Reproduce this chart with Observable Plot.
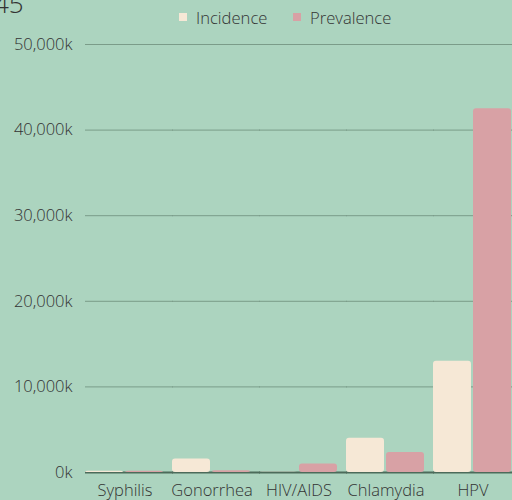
<!DOCTYPE html>
<html><head><meta charset="utf-8">
<script src="https://cdn.jsdelivr.net/npm/d3@7"></script>
<script src="https://cdn.jsdelivr.net/npm/@observablehq/plot@0.6"></script>
<style>
html,body{margin:0;padding:0;background:#acd4bf;}
body{width:512px;height:500px;overflow:hidden;position:relative;font-family:"Open Sans",sans-serif;font-weight:300;color:#333;}
#title{position:absolute;left:-6px;top:-15px;font-size:26px;white-space:nowrap;line-height:normal;}
.sw{position:absolute;top:13px;width:8px;height:8px;}
.lt{position:absolute;top:6px;font-size:16.6px;line-height:normal;white-space:nowrap;}
#chart{position:absolute;left:0;top:30px;}
</style></head>
<body>
<div id="title">45</div>
<div id="legend"></div>
<div id="chart"></div>
<script>
const diseases = ["Syphilis", "Gonorrhea", "HIV/AIDS", "Chlamydia", "HPV"];
const seriesNames = ["Incidence", "Prevalence"];
const incidence = [146, 1570, 32.6, 4000, 13000];      // thousands
const prevalence = [156, 209, 984, 2350, 42500];       // thousands
const yTicks = [0, 10000, 20000, 30000, 40000, 50000];

const seriesColors = ["#f6e8d6", "#d8a1a5"];

const rows = [];
diseases.forEach((d, i) => {
  rows.push({disease: d, series: seriesNames[0], value: incidence[i]});
  rows.push({disease: d, series: seriesNames[1], value: prevalence[i]});
});

// legend
const legend = document.getElementById("legend");
const legPos = [[179, 196], [293, 310]];
seriesNames.forEach((s, i) => {
  const sw = document.createElement("div");
  sw.className = "sw"; sw.style.left = legPos[i][0] + "px"; sw.style.background = seriesColors[i];
  const t = document.createElement("div");
  t.className = "lt"; t.style.left = legPos[i][1] + "px"; t.textContent = s;
  legend.appendChild(sw); legend.appendChild(t);
});

const chart = Plot.plot({
  width: 512, height: 470,
  marginTop: 14, marginBottom: 28, marginLeft: 84, marginRight: 0,
  style: {background: "transparent", fontFamily: "Open Sans", fontSize: "16.5px", fontWeight: 300, color: "#333"},
  fx: {domain: diseases, paddingInner: 0.095, paddingOuter: 0, label: null, axis: "bottom", tickSize: 0, tickPadding: 12},
  x: {domain: seriesNames, paddingInner: 0.04, paddingOuter: 0, axis: null},
  y: {domain: [0, 50000], ticks: yTicks, tickFormat: d => d3.format(",")(d) + "k", tickSize: 0, tickPadding: 13, label: null},
  color: {domain: seriesNames, range: seriesColors},
  marks: [
    Plot.ruleY(yTicks.filter(d => d > 0), {stroke: "#7b9c89", strokeWidth: 1, strokeOpacity: 1, insetRight: -9}),
    Plot.ruleY([0], {stroke: "#4c6b5a", strokeWidth: 2, strokeOpacity: 1, insetRight: -9}),
    Plot.barY(rows, {fx: "disease", x: "series", y: "value", fill: "series", rx: 3})
  ]
});
document.getElementById("chart").appendChild(chart);
</script>
</body></html>
